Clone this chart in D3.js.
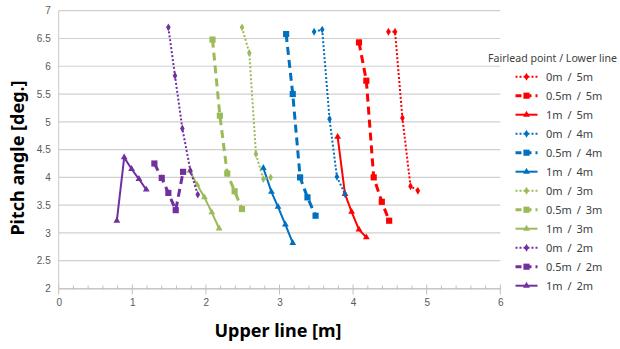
<!DOCTYPE html>
<html>
<head>
<meta charset="utf-8">
<script src="https://cdn.jsdelivr.net/npm/d3@7"></script>
<style>
body { margin: 0; background: #fff; }
svg { display: block; font-family: "Noto Sans", "Open Sans", sans-serif; }
</style>
</head>
<body>
<svg id="chart" width="620" height="349"></svg>
<script>
// ---- Data ----
const seriesNames = ["0m / 5m", "0.5m / 5m", "1m / 5m", "0m / 4m", "0.5m / 4m", "1m / 4m",
                     "0m / 3m", "0.5m / 3m", "1m / 3m", "0m / 2m", "0.5m / 2m", "1m / 2m"];
const seriesColors = ["#ff0000", "#ff0000", "#ff0000", "#0070c0", "#0070c0", "#0070c0",
                      "#9bbb59", "#9bbb59", "#9bbb59", "#7030a0", "#7030a0", "#7030a0"];
const seriesStyles = ["dot", "dash", "solid", "dot", "dash", "solid",
                      "dot", "dash", "solid", "dot", "dash", "solid"];

const x_0m_5m   = [4.48, 4.57, 4.67, 4.78, 4.88];
const y_0m_5m   = [6.62, 6.62, 5.07, 3.84, 3.76];
const x_05m_5m  = [4.08, 4.18, 4.28, 4.39, 4.49];
const y_05m_5m  = [6.43, 5.74, 4.00, 3.56, 3.22];
const x_1m_5m   = [3.79, 3.89, 3.98, 4.08, 4.18];
const y_1m_5m   = [4.73, 3.70, 3.38, 3.06, 2.92];
const x_0m_4m   = [3.47, 3.58, 3.68, 3.78, 3.89];
const y_0m_4m   = [6.62, 6.66, 5.05, 4.01, 3.70];
const x_05m_4m  = [3.09, 3.18, 3.28, 3.38, 3.49];
const y_05m_4m  = [6.58, 5.50, 4.00, 3.64, 3.31];
const x_1m_4m   = [2.78, 2.89, 2.98, 3.08, 3.18];
const y_1m_4m   = [4.17, 3.74, 3.47, 3.15, 2.82];
const x_0m_3m   = [2.49, 2.59, 2.68, 2.78, 2.88];
const y_0m_3m   = [6.70, 6.24, 4.42, 3.97, 4.00];
const x_05m_3m  = [2.09, 2.19, 2.29, 2.39, 2.49];
const y_05m_3m  = [6.48, 5.11, 4.07, 3.75, 3.43];
const x_1m_3m   = [1.78, 1.88, 1.98, 2.08, 2.18];
const y_1m_3m   = [4.12, 3.87, 3.64, 3.37, 3.08];
const x_0m_2m   = [1.49, 1.58, 1.68, 1.79, 1.89];
const y_0m_2m   = [6.70, 5.83, 4.88, 4.12, 3.69];
const x_05m_2m  = [1.30, 1.40, 1.49, 1.59, 1.69];
const y_05m_2m  = [4.25, 3.99, 3.72, 3.41, 4.10];
const x_1m_2m   = [0.79, 0.89, 0.99, 1.09, 1.19];
const y_1m_2m   = [3.22, 4.36, 4.15, 3.97, 3.78];

const xValues = [x_0m_5m, x_05m_5m, x_1m_5m, x_0m_4m, x_05m_4m, x_1m_4m,
                 x_0m_3m, x_05m_3m, x_1m_3m, x_0m_2m, x_05m_2m, x_1m_2m];
const yValues = [y_0m_5m, y_05m_5m, y_1m_5m, y_0m_4m, y_05m_4m, y_1m_4m,
                 y_0m_3m, y_05m_3m, y_1m_3m, y_0m_2m, y_05m_2m, y_1m_2m];

const xTicks = [0, 1, 2, 3, 4, 5, 6];
const yTicks = [2, 2.5, 3, 3.5, 4, 4.5, 5, 5.5, 6, 6.5, 7];
const legendTitle = "Fairlead point / Lower line";
const xTitle = "Upper line [m]";
const yTitle = "Pitch angle [deg.]";

// ---- Chart ----
const svg = d3.select("#chart");
const x = d3.scaleLinear().domain([0, 6]).range([58.7, 500.3]);
const y = d3.scaleLinear().domain([2, 7]).range([288.5, 10.7]);

// grid
svg.append("g").selectAll("line").data(yTicks).join("line")
  .attr("x1", x(0)).attr("x2", x(6))
  .attr("y1", d => y(d)).attr("y2", d => y(d))
  .attr("stroke", "#d0d0d0").attr("stroke-width", 1.2);

// y axis line
svg.append("line").attr("x1", x(0)).attr("x2", x(0)).attr("y1", y(7)).attr("y2", y(2))
  .attr("stroke", "#c8c8c8").attr("stroke-width", 1);

// x axis
const xAxis = d3.axisBottom(x).tickValues(xTicks).tickFormat(d3.format("d")).tickSize(0).tickPadding(10);
const gx = svg.append("g").attr("transform", `translate(0,${y(2)})`).call(xAxis);
gx.select(".domain").attr("stroke", "#bfbfbf");
gx.selectAll("text").attr("fill", "#595959").style("font-size", "10px");
const minorTicks = d3.range(0, 30.5, 1).map(i => i * 0.2);
gx.append("g").selectAll("line").data(minorTicks).join("line")
  .attr("x1", d => x(d)).attr("x2", d => x(d))
  .attr("y1", d => Math.abs(d - Math.round(d)) < 1e-6 ? -4 : -3)
  .attr("y2", d => Math.abs(d - Math.round(d)) < 1e-6 ? 6 : 1)
  .attr("stroke", "#bfbfbf").attr("stroke-width", 1);

// y axis labels
const yAxis = d3.axisLeft(y).tickValues(yTicks).tickFormat(d => String(d)).tickSize(0).tickPadding(8);
const gy = svg.append("g").attr("transform", `translate(${x(0)},0)`).call(yAxis);
gy.select(".domain").remove();
gy.selectAll("text").attr("fill", "#595959").style("font-size", "10px");

// series
const dashFor = s => s === "dot" ? "2,2" : (s === "dash" ? "8,5" : null);
const widthFor = s => s === "dot" ? 2 : (s === "dash" ? 3 : 2);
const symFor = s => s === "dot" ? d3.symbolDiamond : (s === "dash" ? d3.symbolSquare : d3.symbolTriangle);
const sizeFor = s => s === "dot" ? 18 : (s === "dash" ? 38 : 20);

const line = d3.line().x(d => x(d[0])).y(d => y(d[1]));
seriesNames.forEach((name, i) => {
  const pts = xValues[i].map((v, j) => [v, yValues[i][j]]);
  const st = seriesStyles[i];
  const g = svg.append("g");
  g.append("path").datum(pts).attr("d", line)
    .attr("fill", "none").attr("stroke", seriesColors[i])
    .attr("stroke-width", widthFor(st))
    .attr("stroke-dasharray", dashFor(st));
  g.selectAll("path.m").data(pts).join("path").attr("class", "m")
    .attr("transform", d => `translate(${x(d[0])},${y(d[1])})`)
    .attr("d", d3.symbol().type(symFor(st)).size(sizeFor(st)))
    .attr("fill", seriesColors[i]);
});

// legend
svg.append("text").attr("x", 488).attr("y", 61.5).text(legendTitle)
  .attr("textLength", 129).attr("lengthAdjust", "spacingAndGlyphs")
  .attr("fill", "#404040").style("font-size", "10.5px");
const lg = svg.append("g");
seriesNames.forEach((name, i) => {
  const cy = 76.7 + i * 19;
  const st = seriesStyles[i];
  lg.append("line").attr("x1", 515.5).attr("x2", 537.5).attr("y1", cy).attr("y2", cy)
    .attr("stroke", seriesColors[i]).attr("stroke-width", widthFor(st))
    .attr("stroke-dasharray", st === "dash" ? "6,4" : dashFor(st));
  lg.append("path").attr("transform", `translate(526.5,${cy})`)
    .attr("d", d3.symbol().type(symFor(st)).size(sizeFor(st)))
    .attr("fill", seriesColors[i]);
  lg.append("text").attr("x", 546).attr("y", cy + 4).text(name)
    .attr("fill", "#404040").style("font-size", "11px").style("word-spacing", "2px");
});

// axis titles
svg.append("text").attr("x", 278).attr("y", 336.5).attr("text-anchor", "middle")
  .text(xTitle).style("font-size", "18px").style("font-weight", "bold").attr("fill", "#000");
svg.append("text").attr("transform", "translate(24,158) rotate(-90)").attr("text-anchor", "middle")
  .text(yTitle).style("font-size", "18px").style("font-weight", "bold").attr("fill", "#000");
</script>
</body>
</html>
